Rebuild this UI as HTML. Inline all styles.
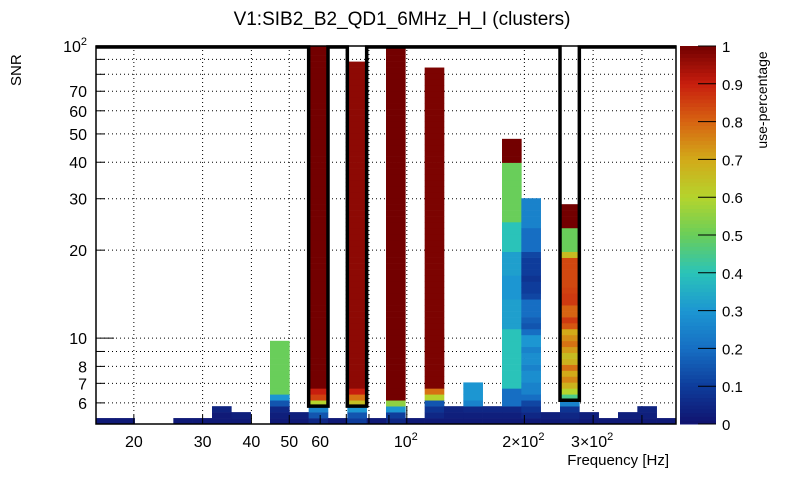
<!DOCTYPE html>
<html><head><meta charset="utf-8"><style>
body{margin:0;background:#fff;width:805px;height:472px;overflow:hidden}
svg text{font-family:"Liberation Sans",sans-serif}
</style></head><body>
<svg id="c" width="805" height="472" xmlns="http://www.w3.org/2000/svg">
<text x="402" y="25" font-size="19" text-anchor="middle">V1:SIB2_B2_QD1_6MHz_H_I (clusters)</text>
<text transform="translate(21,86) rotate(-90)" font-size="15">SNR</text>
<text x="669" y="465" font-size="15" text-anchor="end">Frequency [Hz]</text>
<text transform="translate(767,100) rotate(-90)" font-size="14" text-anchor="middle">use-percentage</text>
<g id="grid"></g><g id="cells"></g><g id="axes"></g>
</svg>
<script>
// ---- data ----
const xEdgesMin = 16.0, xEdgesMax = 489;
const yMin = 5.08, yMax = 100;
const nBins = 30;
const yBinLog = 0.02034;
// per-frequency-bin column: use-percentage values from bottom y-bin upward
const D=0.02;
const columns = [
 [D],[D],[],[],[D],[D],[D,D,0.04],[D,0.03],[],
 [D,0.03,0.05,0.15,0.3,0.5,0.5,0.5,0.5,0.5,0.5,0.5,0.5,0.5],
 [D,0.03],
 [0.05,0.15,0.25,0.6,0.85,0.9].concat(Array(58).fill(1)),
 [D],
 [0.1,0.15,0.3,0.65,0.78,0.9].concat(Array(55).fill(0.97)),
 [D],
 [0.05,0.1,0.3,0.55].concat(Array(60).fill(1)),
 [D],
 [0.02,0.05,0.08,0.15,0.6,0.78].concat(Array(54).fill(0.99)),
 [D,0.03,0.04],
 [D,0.03,0.05,0.25,0.3,0.3,0.3],
 [D,0.03,0.05],
 [D,0.03,0.05,0.2,0.2,0.2,0.4,0.4,0.4,0.4,0.4,0.4,0.4,0.4,0.4,0.4,0.32,0.32,0.32,0.32,0.32,0.3,0.3,0.3,0.3,0.32,0.32,0.32,0.32,0.4,0.4,0.4,0.4,0.4,0.5,0.5,0.5,0.5,0.5,0.5,0.5,0.5,0.5,0.5,1,1,1,1],
 [D,0.05,0.08,0.12,0.2,0.25,0.25,0.28,0.28,0.25,0.28,0.28,0.25,0.3,0.3,0.2,0.15,0.17,0.2,0.2,0.2,0.12,0.1,0.1,0.08,0.1,0.1,0.1,0.12,0.2,0.2,0.2,0.2,0.25,0.25,0.25,0.25,0.25],
 [D,0.03],
 [0.03,0.05,0.08,0.25,0.45,0.6,0.68,0.75,0.7,0.78,0.68,0.66,0.72,0.78,0.74,0.7,0.82,0.86,0.8,0.8,0.86,0.86,0.85,0.84,0.84,0.84,0.84,0.84,0.66,0.5,0.5,0.5,0.5,1,1,1,1],
 [D,0.03],[D],[D,0.03],[D,0.03,0.04],[D]
];
const yTickVals=[6,7,8,10,20,30,40,50,60,70,100];
const yTickLabels=["6","7","8","10","20","30","40","50","60","70","10²"];
const xTickVals=[20,30,40,50,60,100,200,300];
const xTickLabels=["20","30","40","50","60","10²","2×10²","3×10²"];
const cbTicks=[0,0.1,0.2,0.3,0.4,0.5,0.6,0.7,0.8,0.9,1];
const cbLabels=["0","0.1","0.2","0.3","0.4","0.5","0.6","0.7","0.8","0.9","1"];
const outlined=[11,13,24];
const outlineFloor=[3,3,4];

// ---- scales ----
const L=96,R=676,T=46,B=424;
const xs=v=>L+(Math.log10(v)-Math.log10(xEdgesMin))/(Math.log10(xEdgesMax)-Math.log10(xEdgesMin))*(R-L);
const ys=v=>B-(Math.log10(v)-Math.log10(yMin))/(Math.log10(yMax)-Math.log10(yMin))*(B-T);
const binX=i=>L+i*(R-L)/nBins;
const yEdge=k=>Math.min(yMax,yMin*Math.pow(10,k*yBinLog));
const stops=[[0,[16,18,110]],[0.1,[14,60,155]],[0.2,[22,110,195]],[0.3,[28,150,210]],[0.4,[42,195,185]],[0.5,[105,206,90]],[0.6,[180,212,45]],[0.7,[210,170,25]],[0.8,[215,100,18]],[0.9,[200,30,14]],[1,[115,0,0]]];
function col(v){for(let i=1;i<stops.length;i++){if(v<=stops[i][0]){const a=stops[i-1],b=stops[i],t=(v-a[0])/(b[0]-a[0]);return 'rgb('+a[1].map((c,j)=>Math.round(c+(b[1][j]-c)*t)).join(',')+')';}}return 'rgb(115,0,0)';}
const NS="http://www.w3.org/2000/svg";
function mk(p,tag,at){const e=document.createElementNS(NS,tag);for(const k in at)e.setAttribute(k,at[k]);p.appendChild(e);return e;}
const grid=document.getElementById('grid'),cells=document.getElementById('cells'),axes=document.getElementById('axes');
const gx=[20,30,40,50,60,70,80,90,100,200,300,400];
gx.forEach(v=>{const e=mk(grid,'line',{x1:xs(v),x2:xs(v),y1:T,y2:B,stroke:'#000','stroke-dasharray':'1 3','stroke-width':1});

});
const gy=[6,7,8,9,10,20,30,40,50,60,70,80,90];
gy.forEach(v=>{const e=mk(grid,'line',{x1:L,x2:R,y1:ys(v),y2:ys(v),stroke:'#000','stroke-dasharray':'1 3','stroke-width':1});

});
columns.forEach((c,i)=>{c.forEach((v,k)=>{if(v==null)return;const y1=ys(yEdge(k+1)),y0=ys(yEdge(k));
const e=mk(cells,'rect',{x:binX(i),y:y1,width:(R-L)/nBins+0.3,height:y0-y1+0.3,fill:col(v)});

});});
let d='M'+L+','+(T+1);
outlined.forEach((i,j)=>{const yb=ys(yEdge(outlineFloor[j]));d+=' L'+binX(i)+','+(T+1)+' L'+binX(i)+','+yb+' L'+binX(i+1)+','+yb+' L'+binX(i+1)+','+(T+1);});
d+=' L'+R+','+(T+1);
const ol=mk(axes,'path',{d:d,fill:'none',stroke:'#000','stroke-width':3.5});


const fr=mk(axes,'rect',{x:L,y:T,width:R-L,height:B-T,fill:'none',stroke:'#000','stroke-width':1.5});


for(let v=6;v<=100;v++){if(v>10&&v%10)continue;const y=ys(v);const len=(v==10||v==100)?18:9;mk(axes,'line',{x1:L,x2:L+len,y1:y,y2:y,stroke:'#000'});}
yTickVals.forEach((v,i)=>{const t=mk(axes,'text',{x:L-9,y:ys(v)+6,'font-size':16,'text-anchor':'end'});


const lab=yTickLabels[i];if(lab.endsWith('²')){t.textContent='10';const s=mk(t,'tspan',{dy:-7,'font-size':11});s.textContent='2';}else t.textContent=lab;});
[20,30,40,50,60,70,80,90,100,200,300,400].forEach(v=>{const x=xs(v);const len=(v==100)?18:9;mk(axes,'line',{x1:x,x2:x,y1:B,y2:B-len,stroke:'#000'});});
xTickVals.forEach((v,i)=>{const t=mk(axes,'text',{x:xs(v)+(i>=5?-1:0),y:447,'font-size':16,'text-anchor':'middle'});


const lab=xTickLabels[i];if(lab.endsWith('²')){t.textContent=lab.slice(0,-1);const s=mk(t,'tspan',{dy:-7,'font-size':11});s.textContent='2';}else t.textContent=lab;});
const CL=680,CR=716;
for(let k=0;k<100;k++){const y0=B-(k)*(B-T)/100,y1=B-(k+1)*(B-T)/100;mk(axes,'rect',{x:CL,y:y1,width:CR-CL,height:y0-y1+0.5,fill:col((k+0.5)/100)});}
cbTicks.forEach((v,i)=>{const y=B-v*(B-T);mk(axes,'line',{x1:CR-18,x2:CR,y1:y,y2:y,stroke:'#000'});
const t=mk(axes,'text',{x:CR+6,y:y+6,'font-size':15});t.textContent=cbLabels[i];

});
</script>
</body></html>
